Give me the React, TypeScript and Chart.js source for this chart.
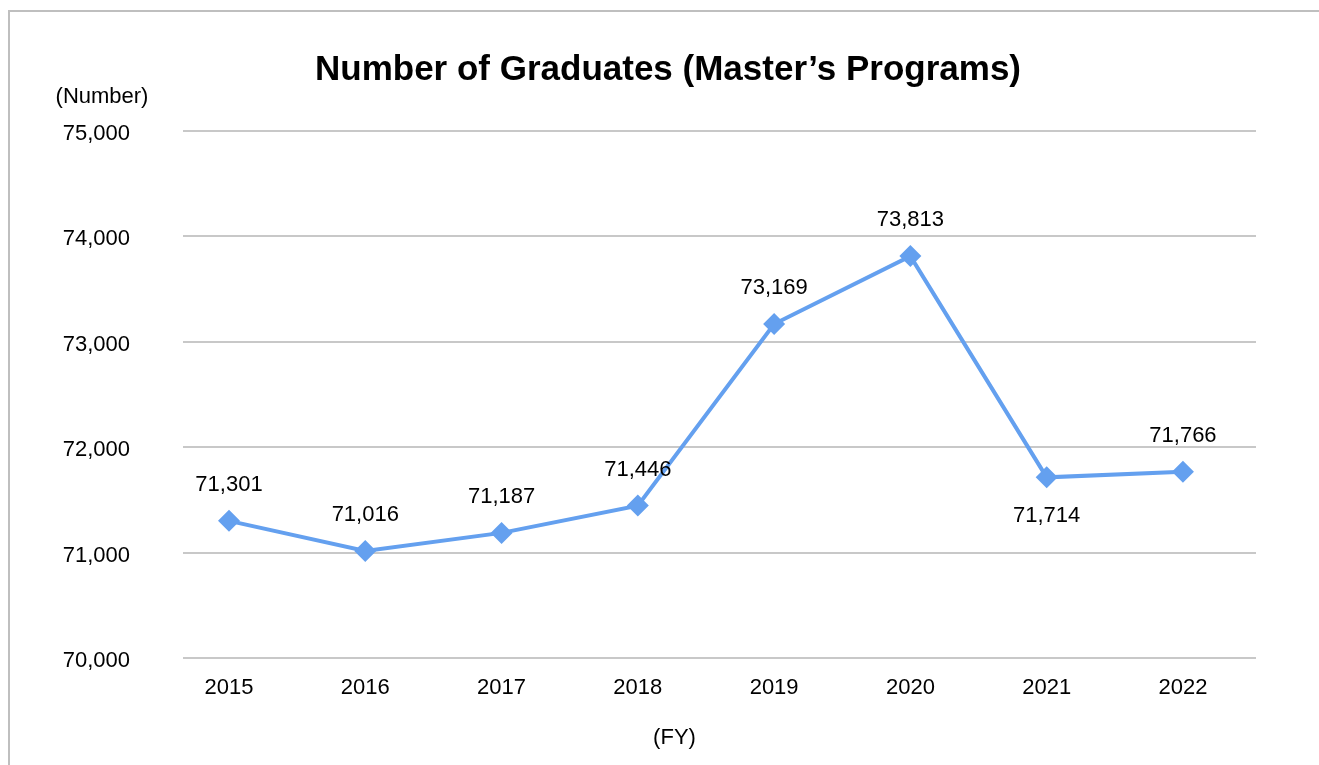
import React, { useEffect, useRef } from "react";
import { Chart, registerables } from "chart.js";

Chart.register(...registerables);

const years: string[] = ["2015", "2016", "2017", "2018", "2019", "2020", "2021", "2022"];
const graduates: number[] = [71301, 71016, 71187, 71446, 73169, 73813, 71714, 71766];
const labelsBelow: number[] = [6];
const yMin = 70000;
const yMax = 75000;
const yStep = 1000;

const chartTitle = "Number of Graduates (Master\u2019s Programs)";
const yUnit = "(Number)";
const xUnit = "(FY)";

const FONT = "'Liberation Sans', Arial, sans-serif";
const LINE_COLOR = "#64A0EF";

const fmt = (v: number) => v.toLocaleString("en-US");

const textPlugin = {
  id: "extraText",
  afterDatasetsDraw(chart: any) {
    const ctx = chart.ctx;
    const area = chart.chartArea;
    const meta = chart.getDatasetMeta(0);
    ctx.save();
    ctx.fillStyle = "#000";
    ctx.font = `22px ${FONT}`;
    ctx.textAlign = "center";
    ctx.textBaseline = "middle";
    meta.data.forEach((pt: any, i: number) => {
      const below = labelsBelow.includes(i);
      ctx.fillText(fmt(graduates[i]), pt.x, pt.y + (below ? 39 : -36));
    });
    const yScale = chart.scales.y;
    ctx.fillText(yUnit, yScale.right - 81, area.top - 34);
    ctx.fillText(xUnit, (area.left + area.right) / 2 - 45, area.bottom + 80);
    ctx.restore();
  },
};

export default function App() {
  const ref = useRef<HTMLCanvasElement | null>(null);

  useEffect(() => {
    if (!ref.current) return;
    const chart = new Chart(ref.current, {
      type: "line",
      data: {
        datasets: [
          {
            data: graduates.map((v, i) => ({ x: i, y: v })),
            borderColor: LINE_COLOR,
            backgroundColor: LINE_COLOR,
            borderWidth: 4,
            pointStyle: "rectRot",
            pointRadius: 11,
            pointBorderWidth: 0,
            pointBackgroundColor: LINE_COLOR,
            tension: 0,
          },
        ],
      },
      options: {
        responsive: false,
        animation: false,
        devicePixelRatio: 1,
        layout: { padding: { left: 17, right: 0, top: 0, bottom: 0 } },
        plugins: {
          legend: { display: false },
          tooltip: { enabled: false },
          title: {
            display: true,
            text: chartTitle,
            color: "#000",
            font: { family: FONT, size: 35, weight: "bold", lineHeight: 1.2 },
            padding: { top: 49, bottom: 40 },
          },
        },
        scales: {
          x: {
            type: "linear",
            min: -0.3375,
            max: 7.536,
            grid: { display: false, drawTicks: false },
            border: { display: false },
            afterBuildTicks: (s: any) => {
              s.ticks = years.map((_, i) => ({ value: i }));
            },
            afterFit: (s: any) => {
              s.height = 107;
            },
            ticks: {
              color: "#000",
              font: { family: FONT, size: 22 },
              padding: 17,
              maxRotation: 0,
              autoSkip: false,
              callback: (v: any) => years[v] ?? "",
            },
          },
          y: {
            type: "linear",
            position: "left",
            min: yMin,
            max: yMax,
            grid: { color: "#C8C8C8", lineWidth: 2, drawTicks: false },
            border: { display: false },
            afterFit: (s: any) => {
              s.width = 166;
            },
            ticks: {
              stepSize: yStep,
              color: "#000",
              font: { family: FONT, size: 22 },
              padding: 53,
              labelOffset: 3,
              callback: (v: any) => fmt(Number(v)),
            },
          },
          yRight: {
            type: "linear",
            position: "right",
            display: true,
            grid: { display: false, drawTicks: false },
            border: { display: false },
            ticks: { display: false },
            afterFit: (s: any) => {
              s.width = 63;
            },
          },
        },
      },
      plugins: [textPlugin],
    } as any);
    return () => chart.destroy();
  }, []);

  return (
    <div style={{ position: "absolute", left: 0, top: 0, width: 1319, height: 765, overflow: "hidden", background: "#fff" }}>
      <div
        style={{
          position: "absolute",
          left: 8,
          top: 10,
          width: 1400,
          height: 900,
          borderTop: "2px solid #BFBFBF",
          borderLeft: "2px solid #BFBFBF",
        }}
      />
      <canvas ref={ref} width={1319} height={765} style={{ position: "absolute", left: 0, top: 0, width: 1319, height: 765 }} />
    </div>
  );
}
